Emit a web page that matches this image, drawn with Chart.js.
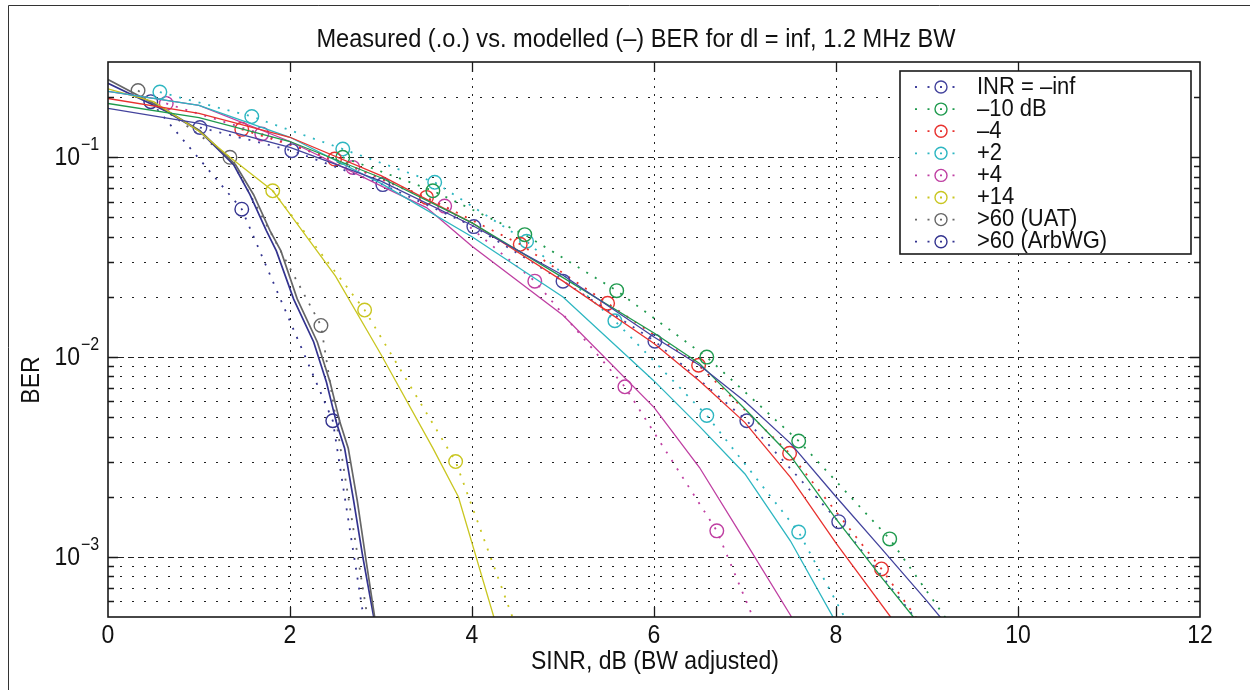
<!DOCTYPE html>
<html>
<head>
<meta charset="utf-8">
<script src="https://cdn.jsdelivr.net/npm/chart.js@4.4.1/dist/chart.umd.min.js"></script>
<style>
  html, body { margin: 0; padding: 0; background: #fff; }
  canvas { display: block; }
</style>
</head>
<body>
<canvas id="ber" width="1250" height="690"></canvas>
<script>
const FONT = '"Liberation Sans", Arial, Helvetica, sans-serif';
const STRETCH = 1.1;

// axis ticks
const xTicks = [0, 2, 4, 6, 8, 10, 12];
const yDecades = [1e-3, 1e-2, 1e-1];
const yMinorSteps = [2, 3, 4, 5, 6, 7, 8, 9];
const yMin = 5e-4, yMax = 0.3;

const legendLabels = ['INR = \u2013inf', '\u201310 dB', '\u20134', '+2', '+4', '+14', '>60 (UAT)', '>60 (ArbWG)'];
const colors = ['#43439d', '#1f9a4e', '#e8322f', '#2db6c1', '#bf3fa2', '#c9c621', '#666666', '#33338f'];

// measured points (.o.)
const measInfX = [1.01, 2.02, 3.02, 4.02, 5.0, 6.01, 7.02, 8.03, 9.03];
const measInfY = [0.141, 0.108, 0.073, 0.045, 0.024, 0.012, 0.0048, 0.0015, 0.0004];
const measM10X = [2.58, 3.57, 4.58, 5.59, 6.58, 7.59, 8.59, 9.59];
const measM10Y = [0.1, 0.068, 0.041, 0.0215, 0.010, 0.0038, 0.00123, 0.00028];
const measM4X = [1.47, 2.49, 3.5, 4.53, 5.49, 6.49, 7.49, 8.5, 9.5];
const measM4Y = [0.138, 0.098, 0.063, 0.0367, 0.0186, 0.0091, 0.0033, 0.00087, 0.0002];
const measP2X = [0.57, 1.58, 2.58, 3.59, 4.6, 5.57, 6.58, 7.59, 8.59];
const measP2Y = [0.212, 0.16, 0.11, 0.075, 0.038, 0.0152, 0.0051, 0.00133, 0.00019];
const measP4X = [0.64, 1.69, 2.69, 3.70, 4.69, 5.68, 6.69, 7.69];
const measP4Y = [0.186, 0.131, 0.089, 0.057, 0.024, 0.0071, 0.00135, 0.00011];
const measP14X = [1.81, 2.82, 3.82, 4.82];
const measP14Y = [0.068, 0.0172, 0.003, 0.00017];
const measUatX = [0.33, 1.34, 2.34, 3.34];
const measUatY = [0.216, 0.1, 0.0144, 0.00002];
const measArbX = [0.47, 1.47, 2.47, 3.47];
const measArbY = [0.19, 0.055, 0.0048, 0.000006];

// modelled curves (-)
const modInfX = [0, 1, 2, 3, 4, 5, 6, 6.5, 7, 7.5, 8, 8.5, 9, 9.5];
const modInfY = [0.176, 0.148, 0.112, 0.076, 0.0457, 0.0257, 0.0126, 0.0091, 0.006, 0.0037, 0.002, 0.0011, 0.0006, 0.00032];
const modM10X = [0, 1, 2, 3, 4, 5, 6, 6.5, 7, 7.5, 8, 8.5, 8.85, 9.2];
const modM10Y = [0.186, 0.158, 0.12, 0.079, 0.047, 0.025, 0.0132, 0.0093, 0.0055, 0.0032, 0.00155, 0.00079, 0.0005, 0.00028];
const modM4X = [0, 1, 2, 3, 4, 5, 6, 6.5, 7, 7.5, 8, 8.6, 9];
const modM4Y = [0.197, 0.166, 0.126, 0.081, 0.047, 0.024, 0.0117, 0.0076, 0.0047, 0.0025, 0.00117, 0.0005, 0.00028];
const modP2X = [0, 1, 2, 3, 4, 5, 6, 6.5, 7, 7.5, 8, 8.3];
const modP2Y = [0.214, 0.182, 0.126, 0.074, 0.040, 0.020, 0.0076, 0.0045, 0.0026, 0.0012, 0.00047, 0.00025];
const modP4X = [0, 1, 2, 3, 3.5, 4, 5, 6, 6.5, 7, 7.5, 7.8];
const modP4Y = [0.214, 0.182, 0.12, 0.072, 0.056, 0.0359, 0.0162, 0.0056, 0.0028, 0.0012, 0.00051, 0.00028];
const modP14X = [0, 0.5, 1, 1.34, 1.81, 2, 2.5, 3, 3.57, 3.85, 4.24, 4.5];
const modP14Y = [0.22, 0.19, 0.135, 0.1, 0.068, 0.052, 0.0254, 0.0103, 0.0035, 0.002, 0.0005, 0.00022];
const modUatX = [0, 0.64, 1.01, 1.4, 1.6, 1.78, 1.9, 2.08, 2.3, 2.44, 2.55, 2.64, 2.74, 2.83, 2.93, 3.02];
const modUatY = [0.245, 0.172, 0.136, 0.092, 0.065, 0.043, 0.034, 0.0195, 0.0119, 0.0075, 0.0047, 0.0035, 0.0019, 0.001, 0.0005, 0.0003];
const modArbX = [0, 0.64, 1.01, 1.38, 1.56, 1.74, 1.85, 2.04, 2.26, 2.4, 2.51, 2.6, 2.7, 2.8, 2.92, 3.0];
const modArbY = [0.235, 0.17, 0.135, 0.092, 0.065, 0.043, 0.034, 0.0195, 0.0119, 0.0075, 0.0047, 0.0035, 0.0019, 0.001, 0.0005, 0.00032];

const measured = [
  [measInfX, measInfY], [measM10X, measM10Y], [measM4X, measM4Y], [measP2X, measP2Y],
  [measP4X, measP4Y], [measP14X, measP14Y], [measUatX, measUatY], [measArbX, measArbY]
];
const modelled = [
  [modInfX, modInfY], [modM10X, modM10Y], [modM4X, modM4Y], [modP2X, modP2Y],
  [modP4X, modP4Y], [modP14X, modP14Y], [modUatX, modUatY], [modArbX, modArbY]
];

const pts = (xs, ys) => xs.map((x, i) => ({ x, y: ys[i] }));

const datasets = [];
modelled.forEach(([xs, ys], i) => {
  datasets.push({
    label: legendLabels[i] + ' model',
    data: pts(xs, ys),
    borderColor: colors[i],
    borderWidth: i >= 6 ? 1.7 : 1.3,
    pointRadius: 0,
    tension: 0,
    clip: 0,
    inLegend: false
  });
});
measured.forEach(([xs, ys], i) => {
  datasets.push({
    label: legendLabels[i],
    data: pts(xs, ys),
    borderColor: colors[i],
    backgroundColor: 'rgba(0,0,0,0)',
    borderWidth: 1.8,
    borderDash: [2, 8],
    pointRadius: ctx => (ctx.raw && ctx.raw.y < yMin ? 0 : 6.8),
    pointBorderWidth: 1.4,
    pointBorderColor: colors[i],
    pointBackgroundColor: 'rgba(0,0,0,0)',
    tension: 0,
    clip: 0,
    inLegend: true
  });
});

function text(ctx, str, x, y, size, align, baseline) {
  ctx.save();
  ctx.translate(x, y);
  ctx.scale(1, STRETCH);
  ctx.font = size + 'px ' + FONT;
  ctx.textAlign = align || 'center';
  ctx.textBaseline = baseline || 'middle';
  ctx.fillStyle = '#111';
  ctx.fillText(str, 0, 0);
  ctx.restore();
}

function yGridValues() {
  const out = [];
  yDecades.concat([1e-4]).forEach(d => {
    yMinorSteps.concat([1]).forEach(m => {
      const v = d * m;
      if (v > yMin * 1.001 && v < yMax * 0.999) out.push({ v, major: m === 1 });
    });
  });
  return out;
}

const frame = {
  id: 'frame',
  beforeDatasetsDraw(chart) {
    const { ctx, chartArea: a, scales: { x, y } } = chart;
    ctx.save();
    ctx.strokeStyle = '#222';
    ctx.lineWidth = 1;
    // horizontal grid
    yGridValues().forEach(({ v, major }) => {
      const py = Math.round(y.getPixelForValue(v)) + 0.5;
      ctx.setLineDash(major ? [6, 4] : [2, 10]);
      ctx.beginPath();
      ctx.moveTo(a.left, py);
      ctx.lineTo(a.right, py);
      ctx.stroke();
    });
    // vertical grid
    ctx.setLineDash([2, 6]);
    xTicks.slice(1, -1).forEach(v => {
      const px = Math.round(x.getPixelForValue(v)) + 0.5;
      ctx.beginPath();
      ctx.moveTo(px, a.top);
      ctx.lineTo(px, a.bottom);
      ctx.stroke();
    });
    ctx.restore();
  },
  afterDatasetsDraw(chart) {
    const { ctx, chartArea: a, scales: { x, y } } = chart;
    ctx.save();
    ctx.setLineDash([]);
    ctx.strokeStyle = '#1a1a1a';
    ctx.lineWidth = 1.6;
    ctx.strokeRect(a.left, a.top, a.right - a.left, a.bottom - a.top);

    // tick marks on all four sides
    ctx.lineWidth = 1.3;
    yGridValues().forEach(({ v, major }) => {
      const py = Math.round(y.getPixelForValue(v)) + 0.5;
      const len = major ? 10 : 6;
      ctx.beginPath();
      ctx.moveTo(a.left, py); ctx.lineTo(a.left + len, py);
      ctx.moveTo(a.right, py); ctx.lineTo(a.right - len, py);
      ctx.stroke();
    });
    xTicks.slice(1, -1).forEach(v => {
      const px = Math.round(x.getPixelForValue(v)) + 0.5;
      ctx.beginPath();
      ctx.moveTo(px, a.bottom); ctx.lineTo(px, a.bottom - 10);
      ctx.moveTo(px, a.top); ctx.lineTo(px, a.top + 10);
      ctx.stroke();
    });

    // legend box
    const lx = 900, ly = 71, lw = 291, lh = 183, row = 22.1;
    ctx.fillStyle = '#fff';
    ctx.fillRect(lx, ly, lw, lh);
    ctx.lineWidth = 1.6;
    ctx.strokeRect(lx, ly, lw, lh);
    chart.data.datasets.filter(d => d.inLegend).forEach((d, i) => {
      const cy = ly + 16 + i * row;
      ctx.strokeStyle = d.borderColor;
      ctx.lineWidth = 1.8;
      ctx.setLineDash([2, 10.5]);
      ctx.beginPath();
      ctx.moveTo(915, cy); ctx.lineTo(958, cy);
      ctx.stroke();
      ctx.setLineDash([]);
      ctx.lineWidth = 1.4;
      ctx.beginPath();
      ctx.arc(941, cy, 6, 0, Math.PI * 2);
      ctx.stroke();
      text(ctx, d.label, 977, cy, 22, 'left', 'middle');
    });
    ctx.restore();
  },
  afterDraw(chart) {
    const { ctx, scales: { x, y } } = chart;
    ctx.save();
    // figure border
    ctx.strokeStyle = '#333';
    ctx.lineWidth = 1;
    ctx.beginPath();
    ctx.moveTo(8.5, 690); ctx.lineTo(8.5, 5.5); ctx.lineTo(1250, 5.5);
    ctx.stroke();

    text(ctx, 'Measured (.o.) vs. modelled (\u2013) BER for dl = inf, 1.2 MHz BW', 636, 40, 23.6);
    text(ctx, 'SINR, dB (BW adjusted)', 655, 662, 23);

    ctx.save();
    ctx.translate(32, 380);
    ctx.rotate(-Math.PI / 2);
    text(ctx, 'BER', 0, 0, 23);
    ctx.restore();

    xTicks.forEach(v => text(ctx, String(v), x.getPixelForValue(v), 636, 23));

    yDecades.forEach(d => {
      const py = y.getPixelForValue(d);
      text(ctx, '10', 80, py + 1, 23, 'right');
      text(ctx, '\u2212' + Math.round(-Math.log10(d)), 81, py - 12, 16, 'left');
    });
    ctx.restore();
  }
};

new Chart(document.getElementById('ber'), {
  type: 'line',
  data: { datasets },
  plugins: [frame],
  options: {
    responsive: false,
    animation: false,
    devicePixelRatio: 1,
    layout: { padding: { left: 0, right: 50, top: 62, bottom: 0 } },
    plugins: { legend: { display: false }, tooltip: { enabled: false }, title: { display: false } },
    scales: {
      x: {
        type: 'linear',
        min: 0,
        max: 12,
        ticks: { display: false },
        grid: { display: false },
        border: { display: false },
        afterFit: s => { s.height = 73; }
      },
      y: {
        type: 'logarithmic',
        min: yMin,
        max: yMax,
        ticks: { display: false },
        grid: { display: false },
        border: { display: false },
        afterFit: s => { s.width = 108; }
      }
    }
  }
});
</script>
</body>
</html>
